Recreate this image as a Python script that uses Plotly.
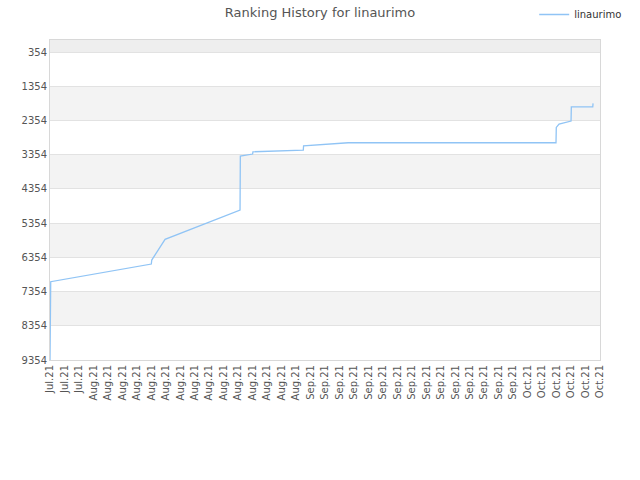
import plotly.graph_objects as go

# Tick labels along the x axis (one per label slot)
tick_labels = (["Jul.21"] * 3 + ["Aug.21"] * 15 + ["Sep.21"] * 15 + ["Oct.21"] * 6)

# Line path: position along the label axis, and rank
x_pos = [0.0, 0.05, 7.0, 7.03, 7.95, 13.13, 13.15, 14.0, 14.02, 15.8, 17.5, 17.52,
         19.3, 20.6, 34.96, 34.98, 35.17, 36.0, 36.02, 37.5, 37.52]
ranks = [9354, 7066, 6549, 6432, 5827, 4970, 3394, 3334, 3267, 3237, 3220, 3091,
         3042, 3004, 3004, 2554, 2457, 2370, 1952, 1952, 1853]

y_ticks = [354, 1354, 2354, 3354, 4354, 5354, 6354, 7354, 8354, 9354]
band_edges = [0, 354, 1354, 2354, 3354, 4354, 5354, 6354, 7354, 8354, 9354]
band_colors = ["#eeeeee", "#ffffff", "#f3f3f3", "#ffffff", "#f3f3f3",
               "#ffffff", "#f3f3f3", "#ffffff", "#f3f3f3", "#ffffff"]

fig = go.Figure()
fig.add_trace(go.Scatter(
    x=x_pos, y=ranks, mode="lines", name="linaurimo",
    line=dict(color="#90c4f5", width=1.3),
))

shapes = []
for i, c in enumerate(band_colors):
    shapes.append(dict(type="rect", xref="paper", yref="y", x0=0, x1=1,
                       y0=band_edges[i], y1=band_edges[i + 1],
                       fillcolor=c, line=dict(width=0), layer="below"))

fig.update_layout(
    width=640, height=480,
    margin=dict(l=50, r=40, t=40, b=120, autoexpand=False),
    paper_bgcolor="white", plot_bgcolor="white",
    shapes=shapes,
    font=dict(family="DejaVu Sans", size=10, color="#555"),
    title=dict(text="Ranking History for linaurimo", x=0.5, xanchor="center",
               y=0.975, yanchor="middle", font=dict(size=13, color="#555")),
    showlegend=True,
    legend=dict(xref="container", yref="container", x=0.98, y=1.0,
                xanchor="right", yanchor="top", orientation="h", itemwidth=30,
                font=dict(size=10, color="#333"), bgcolor="rgba(0,0,0,0)"),
    xaxis=dict(range=[0, 38], tickmode="array", tickvals=list(range(len(tick_labels))),
               ticktext=tick_labels, tickangle=-90, showgrid=False, zeroline=False,
               showline=True, linecolor="#d8d8d8", mirror=True, ticks="",
               tickfont=dict(size=10, color="#555")),
    yaxis=dict(range=[9354, 0], tickmode="array", tickvals=y_ticks,
               ticktext=[str(v) for v in y_ticks], showgrid=True, gridcolor="#e2e2e2",
               zeroline=False, showline=True, linecolor="#d8d8d8", mirror=True,
               ticks="", tickfont=dict(size=10, color="#555")),
)

fig.write_html("out.html")
